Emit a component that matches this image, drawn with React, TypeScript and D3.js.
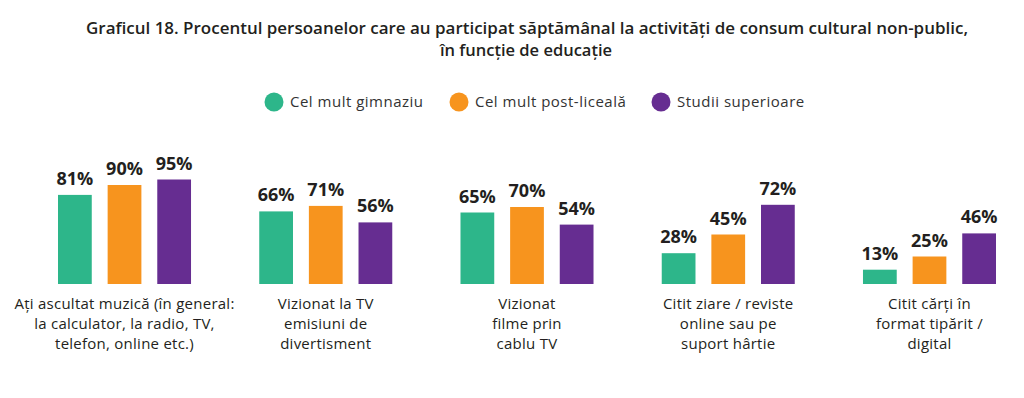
import React from "react";
import * as d3 from "d3";

const categories = [
  "Ați ascultat muzică (în general: la calculator, la radio, TV, telefon, online etc.)",
  "Vizionat la TV emisiuni de divertisment",
  "Vizionat filme prin cablu TV",
  "Citit ziare / reviste online sau pe suport hârtie",
  "Citit cărți în format tipărit / digital",
];

// label lines as broken in the original
const categoryLines = [
  ["Ați ascultat muzică (în general:", "la calculator, la radio, TV,", "telefon, online etc.)"],
  ["Vizionat la TV", "emisiuni de", "divertisment"],
  ["Vizionat", "filme prin", "cablu TV"],
  ["Citit ziare / reviste", "online sau pe", "suport hârtie"],
  ["Citit cărți în", "format tipărit /", "digital"],
];

const seriesNames = ["Cel mult gimnaziu", "Cel mult post-liceală", "Studii superioare"];
const gimnaziu = [81, 66, 65, 28, 13];
const postLiceala = [90, 71, 70, 45, 25];
const superioare = [95, 56, 54, 72, 46];

const colors = ["#2db68a", "#f7941e", "#662d91"];

const W = 1024;
const H = 398;
const FONT = "'Open Sans', sans-serif";
const TEXT = "#231f20";

const App: React.FC = () => {
  const values = [gimnaziu, postLiceala, superioare];

  const x0 = d3
    .scaleBand<string>()
    .domain(categories)
    .range([58, 996])
    .paddingInner(0.339)
    .paddingOuter(0);

  const x1 = d3
    .scaleBand<string>()
    .domain(seriesNames)
    .range([0, x0.bandwidth()])
    .paddingInner(0.32)
    .paddingOuter(0);

  const y = d3.scaleLinear().domain([0, 100]).range([284, 174]);

  // legend positions
  const legendX = [274, 459, 661];

  return (
    <svg width={W} height={H} style={{ display: "block", margin: "-8px", background: "#fff" }}>
      <rect width={W} height={H} fill="#fff" />
      <g fontFamily={FONT} fill={TEXT}>
        <text
          x={527}
          y={34}
          textAnchor="middle"
          fontSize={16.5}
          fontWeight={600}
          textLength={882}
          lengthAdjust="spacingAndGlyphs"
        >
          Graficul 18. Procentul persoanelor care au participat săptămânal la activități de consum cultural non-public,
        </text>
        <text x={526} y={56} textAnchor="middle" fontSize={16.5} fontWeight={600}>
          în funcție de educație
        </text>

        {seriesNames.map((s, i) => (
          <g key={s}>
            <circle cx={legendX[i]} cy={102} r={9.5} fill={colors[i]} />
            <text x={legendX[i] + 16} y={107} fontSize={15} letterSpacing={0.5} fill="#333">
              {s}
            </text>
          </g>
        ))}

        {categories.map((c, ci) => (
          <g key={c} transform={`translate(${x0(c)},0)`}>
            {seriesNames.map((s, si) => {
              const v = values[si][ci];
              const bx = x1(s)!;
              return (
                <g key={s}>
                  <rect
                    x={bx}
                    y={y(v)}
                    width={x1.bandwidth()}
                    height={y(0) - y(v)}
                    fill={colors[si]}
                  />
                  <text
                    x={bx + x1.bandwidth() / 2}
                    y={y(v) - 10}
                    textAnchor="middle"
                    fontSize={18}
                    fontWeight={700}
                  >
                    {v}%
                  </text>
                </g>
              );
            })}
            {categoryLines[ci].map((line, li) => (
              <text
                key={li}
                x={x0.bandwidth() / 2}
                y={309 + li * 20}
                textAnchor="middle"
                fontSize={15}
                letterSpacing={0.25}
              >
                {line}
              </text>
            ))}
          </g>
        ))}
      </g>
    </svg>
  );
};

export default App;
